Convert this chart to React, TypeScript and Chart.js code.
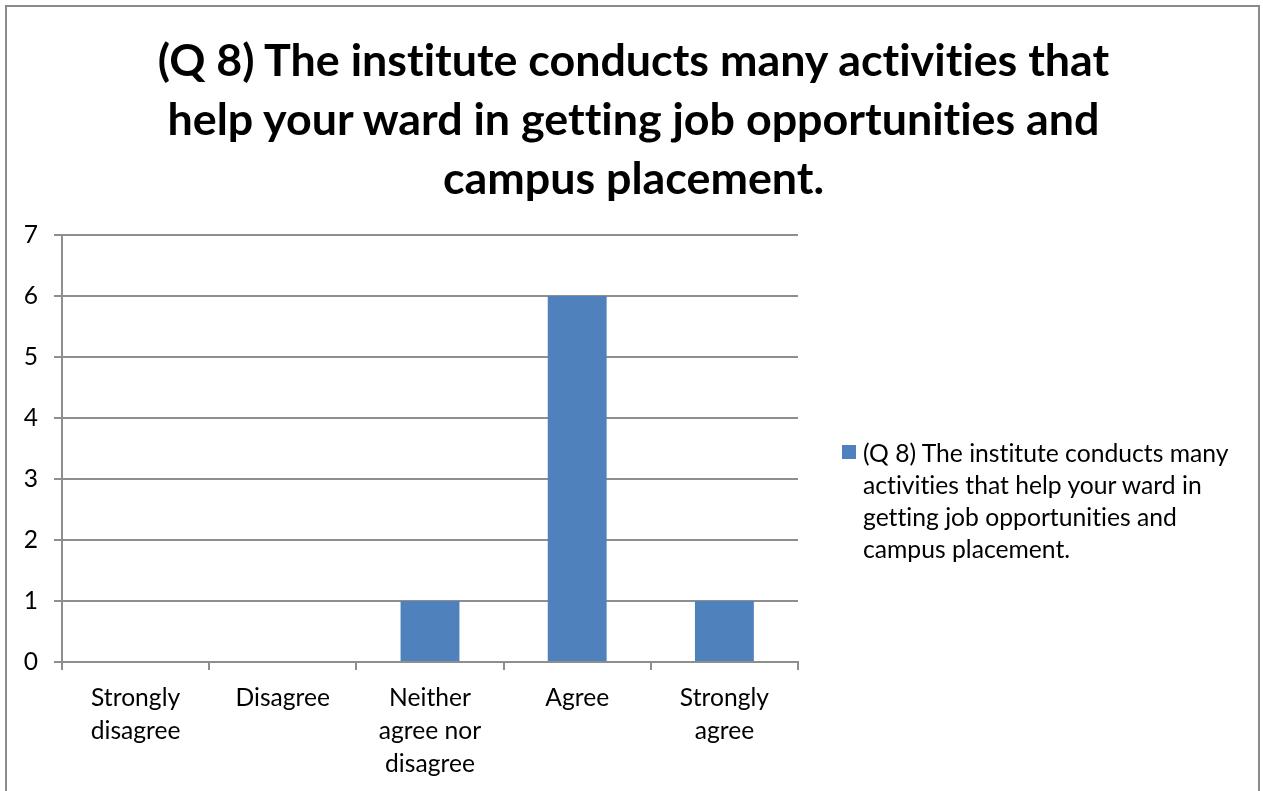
import React, { useEffect, useRef } from "react";
import { Chart, registerables } from "chart.js";

Chart.register(...registerables);

const categories: string[][] = [
  ["Strongly", "disagree"],
  ["Disagree"],
  ["Neither", "agree nor", "disagree"],
  ["Agree"],
  ["Strongly", "agree"],
];
const seriesValues: number[] = [0, 0, 1, 6, 1];
const seriesName = "(Q 8) The institute conducts many activities that help your ward in getting job opportunities and campus placement.";
const titleLines: string[] = [
  "(Q 8) The institute conducts many activities that",
  "help your ward in getting job opportunities and",
  "campus placement.",
];
const legendLines: string[] = [
  "(Q 8) The institute conducts many",
  "activities that help your ward in",
  "getting job opportunities and",
  "campus placement.",
];
const yMin = 0;
const yMax = 7;
const yStep = 1;

const FONT = "Lato, 'Open Sans', sans-serif";
const GRID = "#8e8e8e";
const BAR = "#4f81bd";

const noLigatures = {
  id: "noLigatures",
  beforeDraw(chart: any) {
    try {
      chart.ctx.letterSpacing = "0.01px";
    } catch (e) {}
  },
};

export default function App() {
  const ref = useRef<HTMLCanvasElement | null>(null);

  useEffect(() => {
    if (!ref.current) return;
    const chart = new Chart(ref.current, {
      type: "bar",
      data: {
        labels: categories,
        datasets: [
          {
            label: seriesName,
            data: seriesValues,
            backgroundColor: BAR,
            borderWidth: 0,
            barPercentage: 0.4,
            categoryPercentage: 1,
          },
        ],
      },
      plugins: [noLigatures],
      options: {
        responsive: false,
        animation: false,
        layout: { padding: { left: 0, right: 465, top: 235, bottom: 0 } },
        plugins: {
          legend: { display: false },
          tooltip: { enabled: false },
          title: { display: false },
        },
        scales: {
          x: {
            grid: {
              drawOnChartArea: false,
              drawTicks: true,
              tickLength: 8,
              color: GRID,
              lineWidth: 2,
            },
            border: { color: GRID, width: 2 },
            ticks: {
              color: "#000",
              font: { family: FONT, size: 24.6, lineHeight: 1.34 },
              padding: 12,
              autoSkip: false,
              maxRotation: 0,
              minRotation: 0,
            },
            afterFit: (s: any) => {
              s.height = 129;
            },
          },
          y: {
            min: yMin,
            max: yMax,
            grid: {
              color: GRID,
              lineWidth: 2,
              tickLength: 8,
            },
            border: { color: GRID, width: 2 },
            ticks: {
              stepSize: yStep,
              color: "#000",
              font: { family: FONT, size: 24.6 },
              padding: 16,
            },
            afterFit: (s: any) => {
              s.width = 62;
            },
          },
        },
      },
    });
    return () => chart.destroy();
  }, []);

  return (
    <div
      style={{
        position: "absolute",
        left: 0,
        top: 0,
        width: 1263,
        height: 791,
        overflow: "hidden",
        background: "#fff",
      }}
    >
      <div
        style={{
          position: "absolute",
          left: 5,
          top: 5,
          width: 1255,
          height: 820,
          border: "2px solid #8a8a8a",
          boxSizing: "border-box",
        }}
      />
      <canvas
        ref={ref}
        width={1263}
        height={791}
        style={{ position: "absolute", left: 0, top: 0 }}
      />
      <div
        style={{
          position: "absolute",
          left: 0,
          top: 30,
          width: 1267,
          textAlign: "center",
          fontFamily: FONT,
          fontWeight: "bold",
          fontSize: 44.8,
          lineHeight: "59px",
          color: "#000",
          whiteSpace: "nowrap",
          fontVariantLigatures: "none",
        }}
      >
        {titleLines.map((l, i) => (
          <div key={i}>{l}</div>
        ))}
      </div>
      <div
        style={{
          position: "absolute",
          left: 842,
          top: 437,
          display: "flex",
          alignItems: "flex-start",
          fontFamily: FONT,
          fontSize: 24.7,
          lineHeight: "32px",
          color: "#000",
          whiteSpace: "nowrap",
          fontVariantLigatures: "none",
        }}
      >
        <div
          style={{
            width: 14,
            height: 14,
            background: BAR,
            marginTop: 8,
            marginRight: 7,
            flex: "none",
          }}
        />
        <div>
          {legendLines.map((l, i) => (
            <div key={i}>{l}</div>
          ))}
        </div>
      </div>
    </div>
  );
}
